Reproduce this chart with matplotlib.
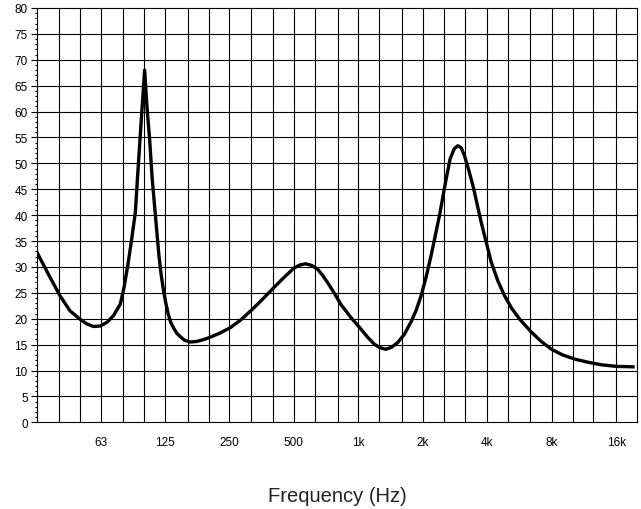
import matplotlib
matplotlib.use('Agg')
import matplotlib.pyplot as plt
from matplotlib.ticker import FixedLocator, MultipleLocator, NullFormatter

# ── Data ──────────────────────────────────────────────────────────────
freq_hz = [31.5, 35.7, 40.5, 45.1, 50.2, 54, 58, 62.4, 67, 71.9,
           77.3, 80.5, 84, 87.5, 90.9, 93, 97.5, 100.5, 103, 106,
           109, 112.8, 117, 120, 123.3, 126.5, 129.7, 133, 137.3, 142,
           147.7, 155, 164.4, 175, 187, 200, 225, 253, 283, 314,
           350, 390, 440, 501, 535, 568, 605, 644, 680, 718,
           770, 828, 920, 1028, 1100, 1186, 1260, 1346, 1430, 1527,
           1640, 1762, 1860, 1962, 2070, 2186, 2391, 2570, 2680, 2800,
           2914, 3020, 3128, 3270, 3427, 3746, 4174, 4480, 4819, 5200,
           5664, 6426, 7150, 7970, 9000, 10240, 11800, 13660, 16000, 19500]
impedance = [32.9, 28.6, 24.4, 21.5, 19.9, 19.0, 18.5, 18.6, 19.3, 20.6,
             22.8, 26.0, 30.5, 35.5, 40.5, 47.0, 60.0, 68.0, 61.0, 54.7,
             47.0, 40.0, 32.5, 28.5, 25.3, 22.8, 20.8, 19.3, 18.2, 17.2,
             16.5, 15.8, 15.5, 15.6, 15.9, 16.3, 17.2, 18.3, 19.8, 21.5,
             23.4, 25.4, 27.6, 29.8, 30.4, 30.6, 30.3, 29.6, 28.4, 27.0,
             25.0, 22.8, 20.3, 18.0, 16.5, 15.1, 14.4, 14.1, 14.5, 15.4,
             17.0, 19.4, 21.6, 24.4, 28.0, 32.2, 39.9, 47.0, 50.8, 52.8,
             53.4, 53.0, 51.5, 48.8, 45.7, 38.6, 30.9, 27.3, 24.4, 22.0,
             19.9, 17.4, 15.6, 14.1, 13.0, 12.2, 11.6, 11.1, 10.8, 10.7]

third_octave = [40, 50, 63, 80, 100, 125, 160, 200, 250, 315, 400, 500,
                630, 800, 1000, 1250, 1600, 2000, 2500, 3150, 4000, 5000,
                6300, 8000, 10000, 12500, 16000]
label_freqs  = [63, 125, 250, 500, 1000, 2000, 4000, 8000, 16000]
label_texts  = ['63', '125', '250', '500', '1k', '2k', '4k', '8k', '16k']

# ── Figure ────────────────────────────────────────────────────────────
plt.rcParams['font.family'] = ['Liberation Sans', 'DejaVu Sans']

fig = plt.figure(figsize=(6.41, 5.10), dpi=100)
ax = fig.add_axes([0.0573, 0.170, 0.9365, 0.8124])

ax.plot(freq_hz, impedance, color='black', linewidth=2.4,
        solid_joinstyle='round', solid_capstyle='butt', zorder=3)

ax.set_xscale('log')
ax.set_xlim(31.5, 20000)
ax.set_ylim(0, 80)

# ── Grid ──────────────────────────────────────────────────────────────
for f in third_octave:
    ax.axvline(f, color='black', linewidth=0.8, zorder=1)
for v in range(5, 80, 5):
    ax.axhline(v, color='black', linewidth=0.8, zorder=1)

# ── Ticks ─────────────────────────────────────────────────────────────
ax.xaxis.set_major_locator(FixedLocator(label_freqs))
ax.set_xticklabels(label_texts)
ax.xaxis.set_minor_formatter(NullFormatter())
ax.xaxis.set_minor_locator(FixedLocator([]))
ax.tick_params(axis='x', which='both', length=0, pad=10, labelsize=8.5)

ax.yaxis.set_major_locator(MultipleLocator(5))
ax.yaxis.set_minor_locator(MultipleLocator(1))
ax.tick_params(axis='y', which='major', length=4.5, width=0.8, pad=2,
               labelsize=8.5)
ax.tick_params(axis='y', which='minor', length=1.8, width=0.8)

for side in ['left', 'bottom', 'top', 'right']:
    ax.spines[side].set_linewidth(0.8)
    ax.spines[side].set_color('black')

ax.set_xlabel('Frequency (Hz)', fontsize=14.5, labelpad=27, color='#222222')

fig.savefig('out.png', dpi=100)
